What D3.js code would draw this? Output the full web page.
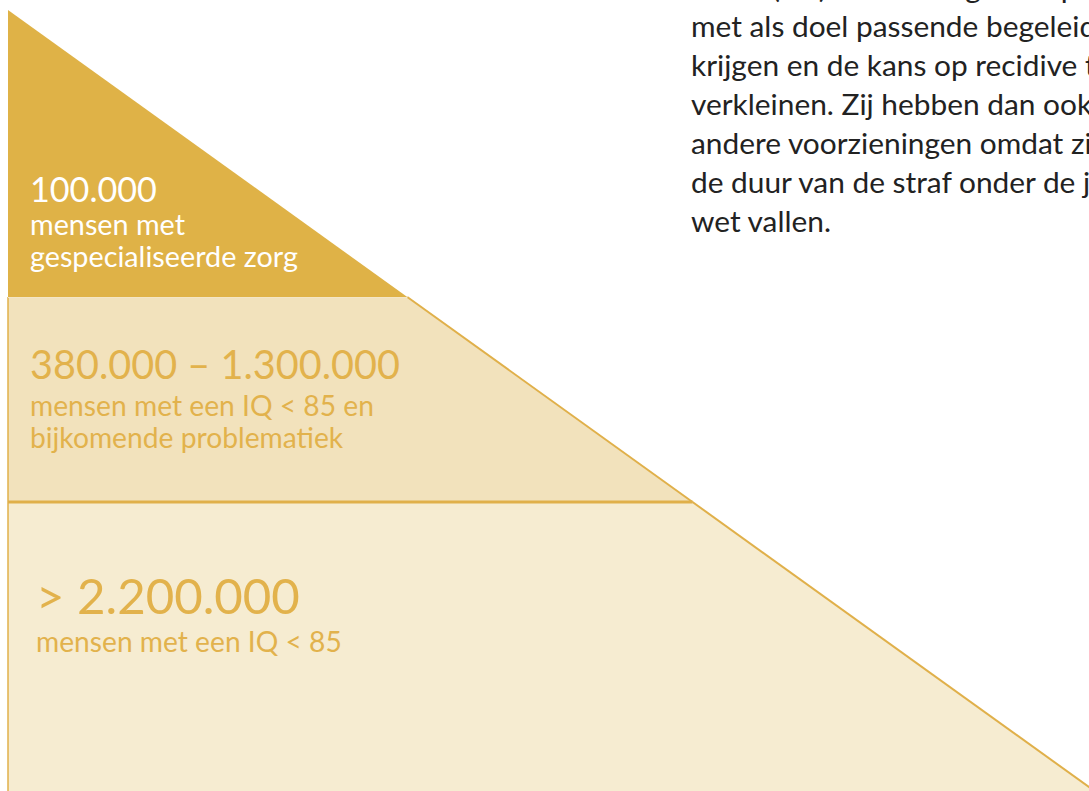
<!DOCTYPE html>
<html><head><meta charset="utf-8">
<script src="https://cdn.jsdelivr.net/npm/d3@7"></script>
<style>html,body{margin:0;padding:0;background:#fff;overflow:hidden}svg{display:block}</style>
</head><body>
<script>
// ---- data ----
const tierValues = ["100.000", "380.000 – 1.300.000", "> 2.200.000"];
const tierDescriptions = [
  ["mensen met", "gespecialiseerde zorg"],
  ["mensen met een IQ < 85 en", "bijkomende problematiek"],
  ["mensen met een IQ < 85"]
];
const bodyLines = [
  "zitten (PIJ) en ontvangen hulp",
  "met als doel passende begeleiding",
  "krijgen en de kans op recidive te",
  "verkleinen. Zij hebben dan ook",
  "andere voorzieningen omdat zij",
  "de duur van de straf onder de jeugd-",
  "wet vallen."
];

// ---- layout / style ----
const W = 1089, H = 791;
const apex = {x: 8, y: 10};
const baseY = 800;
const slope = 1081 / 777;               // horizontal run per vertical px of the hypotenuse
const tierBreaks = [0, 0.3633, 0.6228, 1]; // depth fractions of the tier boundaries
const tierStyle = [
  {fill: "#DFB247", stroke: "none", text: "#FFFFFF", x: 30, valueY: 202, valueW: 127, descY: [235, 267], descW: 268},
  {fill: "#F2E2BC", stroke: "#E0B04A", text: "#E2B24C", x: 30, valueY: 379, valueW: 370, descY: [416, 448], descW: 344},
  {fill: "#F6ECD1", stroke: "#E0B04A", text: "#E2B24C", x: 36, valueY: 614, valueW: 264, descY: [652], descW: 306}
];
const FONT = "Lato, 'Open Sans', sans-serif";

const svg = d3.select("body").append("svg").attr("width", W).attr("height", H)
  .style("background", "#fff");

const y = d3.scaleLinear().domain([0, 1]).range([apex.y, baseY]);
const xEdge = d3.scaleLinear().domain([apex.y, baseY]).range([apex.x, apex.x + (baseY - apex.y) * slope]);

const tiers = tierValues.map((v, i) => ({
  value: v, desc: tierDescriptions[i], i,
  y0: y(tierBreaks[i]), y1: y(tierBreaks[i + 1]), style: tierStyle[i]
}));

const line = d3.line();
const g = svg.append("g");

tiers.forEach(t => {
  const pts = [[apex.x, t.y0], [xEdge(t.y0), t.y0], [xEdge(t.y1), t.y1], [apex.x, t.y1]];
  g.append("path").attr("d", line(pts) + "Z").attr("fill", t.style.fill).attr("stroke", "none");
  if (t.style.stroke !== "none") {
    g.append("path").attr("d", line([[apex.x, t.y0], [apex.x, t.y1]]))
      .attr("stroke", t.style.stroke).attr("stroke-width", 1.5).attr("fill", "none");
    g.append("path").attr("d", line([[xEdge(t.y0), t.y0], [xEdge(t.y1), t.y1]]))
      .attr("stroke", t.style.stroke).attr("stroke-width", 2).attr("fill", "none");
  }
});
const sepY = y(tierBreaks[2]);
g.append("path").attr("d", line([[apex.x, sepY], [xEdge(sepY), sepY]]))
  .attr("stroke", "#E0B04A").attr("stroke-width", 3).attr("fill", "none");
const sepY1 = y(tierBreaks[1]);
g.append("path").attr("d", line([[apex.x, sepY1 + 0.5], [xEdge(sepY1), sepY1 + 0.5]]))
  .attr("stroke", "#F4E6C6").attr("stroke-width", 1).attr("fill", "none");

function fitSize(sel, target) {
  sel.style("font-size", "100px");
  const w = d3.max(sel.nodes(), n => n.getComputedTextLength());
  sel.style("font-size", (100 * target / w) + "px");
}

tiers.forEach(t => {
  const val = svg.append("text").attr("x", t.style.x).attr("y", t.style.valueY)
    .attr("fill", t.style.text).style("font-family", FONT).text(t.value);
  fitSize(val, t.style.valueW);
  const desc = svg.selectAll(null).data(t.desc).enter().append("text")
    .attr("x", t.style.x).attr("y", (d, j) => t.style.descY[j])
    .attr("fill", t.style.text).style("font-family", FONT).text(d => d);
  fitSize(desc, t.style.descW);
});

const body = svg.selectAll(null).data(bodyLines).enter().append("text")
  .attr("x", 691).attr("y", (d, i) => -2.5 + i * 39.1)
  .attr("fill", "#222").style("font-family", FONT).text(d => d);
const last = body.filter((d, i) => i === bodyLines.length - 1);
last.style("font-size", "100px");
const lw = last.node().getComputedTextLength();
body.style("font-size", (100 * 140 / lw) + "px");
</script>
</body></html>
